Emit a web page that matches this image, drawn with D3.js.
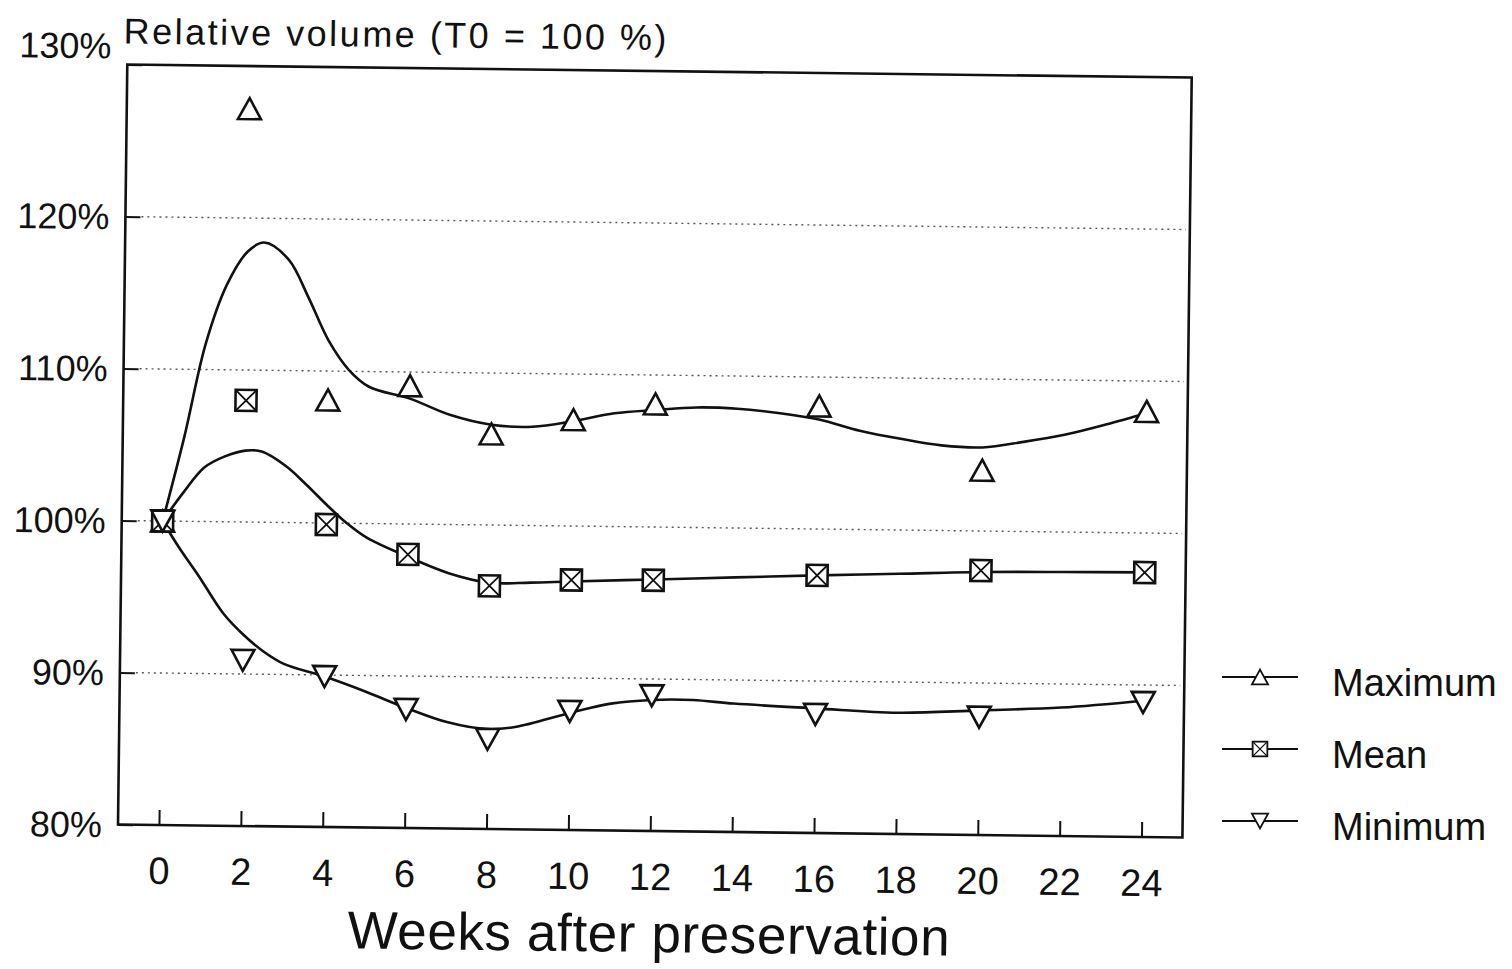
<!DOCTYPE html>
<html>
<head>
<meta charset="utf-8">
<script src="https://cdn.jsdelivr.net/npm/d3@7"></script>
<style>
  body { margin: 0; background: #fff; }
  text { font-family: "Liberation Sans", Arial, sans-serif; fill: #111; }
</style>
</head>
<body>
<div id="chart"></div>
<script>
// measured points (weeks after preservation, % of T0)
const weeks = [0, 2, 4, 6, 8, 10, 12, 16, 20, 24];
const maxValues = [100, 127.2, 108.1, 109.1, 106.0, 107.0, 108.1, 108.1, 104.0, 108.0];
const meanValues = [100, 108.0, 99.9, 98.0, 96.0, 96.45, 96.5, 96.95, 97.4, 97.4];
const minValues = [100, 90.9, 89.9, 87.8, 85.9, 87.8, 88.9, 87.8, 87.75, 88.85];

// fitted curves
const maxFitWeeks = [0, 0.5, 1, 1.5, 2, 2.4, 3, 3.5, 4, 4.5, 5, 6, 7, 8, 9, 10, 11, 12, 13, 14, 15, 16, 17, 18, 19, 20, 21, 22, 23, 24];
const maxFit = [100, 105.5, 111.7, 115.6, 117.8, 118.4, 117.3, 114.8, 112.0, 110.1, 109.0, 108.25, 107.2, 106.6, 106.5, 106.9, 107.45, 107.7, 107.9, 107.85, 107.6, 107.2, 106.5, 106.0, 105.6, 105.5, 105.9, 106.4, 107.1, 107.9];
const meanFitWeeks = [0, 0.5, 1, 1.5, 2, 2.4, 3, 3.5, 4, 4.5, 5, 6, 7, 8, 9, 10, 12, 14, 16, 18, 20, 22, 24];
const meanFit = [100, 101.9, 103.55, 104.3, 104.7, 104.65, 103.7, 102.5, 101.2, 100.0, 99.05, 97.84, 96.8, 96.2, 96.24, 96.35, 96.55, 96.75, 96.95, 97.12, 97.3, 97.37, 97.41];
const minFitWeeks = [0, 0.4, 0.9, 1.5, 2, 2.5, 3, 4, 5, 6, 7, 8, 8.7, 10, 11, 12, 13, 14, 16, 18, 20, 22, 24];
const minFit = [100, 98.3, 96.4, 94.0, 92.6, 91.5, 90.7, 89.9, 88.95, 87.9, 87.0, 86.57, 86.75, 87.7, 88.35, 88.62, 88.65, 88.45, 88.2, 87.98, 88.2, 88.45, 88.97];

const xTicks = [0, 2, 4, 6, 8, 10, 12, 14, 16, 18, 20, 22, 24];
const yTicks = [80, 90, 100, 110, 120, 130];
const gridValues = [90, 100, 110, 120];
const seriesNames = ["Maximum", "Mean", "Minimum"];

const width = 1512, height = 969;

const svg = d3.select("#chart").append("svg")
    .attr("width", width)
    .attr("height", height);

const x = d3.scaleLinear().domain([-1, 25]).range([118, 1182.5]);
const y = d3.scaleLinear().domain([80, 130]).range([825, 65]);

// the scanned figure sits slightly tilted clockwise
const plot = svg.append("g")
    .attr("transform", `rotate(0.7, ${x(0)}, ${y(80)})`);

// dotted gridlines
plot.selectAll(".grid")
    .data(gridValues)
    .enter().append("line")
    .attr("class", "grid")
    .attr("x1", x(-1) + 16)
    .attr("x2", x(25) - 4)
    .attr("y1", d => y(d))
    .attr("y2", d => y(d))
    .attr("stroke", "#555")
    .attr("stroke-width", 1.4)
    .attr("stroke-dasharray", "2,4");

// X axis (ticks point inward)
const xAxis = plot.append("g")
    .attr("transform", `translate(0, ${y(80)})`)
    .call(d3.axisBottom(x).tickValues(xTicks).tickSizeInner(-15).tickSizeOuter(0).tickPadding(32));
xAxis.select(".domain").remove();
xAxis.selectAll("line").attr("stroke", "#111").attr("stroke-width", 2);
xAxis.selectAll("text")
    .style("font-family", "'Liberation Sans', Arial, sans-serif")
    .style("font-size", "38px");

// Y axis
const yAxis = plot.append("g")
    .attr("transform", `translate(${x(-1)}, 0)`)
    .call(d3.axisLeft(y).tickValues(yTicks).tickSizeInner(-15).tickSizeOuter(0).tickPadding(16).tickFormat(d => d + "%"));
yAxis.select(".domain").remove();
yAxis.selectAll("line").attr("stroke", "#111").attr("stroke-width", 2);
yAxis.selectAll("text")
    .style("font-family", "'Liberation Sans', Arial, sans-serif")
    .style("font-size", "36px")
    .attr("dy", d => d === 130 ? "-0.18em" : "0.34em");

// frame
plot.append("rect")
    .attr("x", x(-1))
    .attr("y", y(130))
    .attr("width", x(25) - x(-1))
    .attr("height", y(80) - y(130))
    .attr("fill", "none")
    .attr("stroke", "#111")
    .attr("stroke-width", 2.6);

// fitted curves
const line = d3.line()
    .x(d => x(d[0]))
    .y(d => y(d[1]))
    .curve(d3.curveCatmullRom.alpha(0.5));

[[maxFitWeeks, maxFit], [meanFitWeeks, meanFit], [minFitWeeks, minFit]].forEach(function(s) {
    plot.append("path")
        .datum(d3.zip(s[0], s[1]))
        .attr("d", line)
        .attr("fill", "none")
        .attr("stroke", "#111")
        .attr("stroke-width", 2.6);
});

// marker shapes
const upTri = "M0,-10.5 L11.5,10.5 L-11.5,10.5 Z";
const downTri = "M-11.5,-10.5 L11.5,-10.5 L0,10.5 Z";

function drawMarker(g, kind) {
    if (kind === "Maximum") {
        g.append("path").attr("d", upTri);
    } else if (kind === "Minimum") {
        g.append("path").attr("d", downTri);
    } else {
        g.append("rect").attr("x", -10.5).attr("y", -10.5).attr("width", 21).attr("height", 21);
        g.append("path").attr("d", "M-10.5,-10.5 L10.5,10.5 M10.5,-10.5 L-10.5,10.5").attr("stroke-width", 1.8);
    }
    g.attr("fill", "#fff").attr("stroke", "#111").attr("stroke-width", 2.6);
}

const pointSets = [maxValues, meanValues, minValues];
pointSets.forEach(function(vals, i) {
    plot.selectAll(".pt" + i)
        .data(d3.zip(weeks, vals))
        .enter().append("g")
        .attr("class", "pt" + i)
        .attr("transform", d => `translate(${x(d[0])}, ${y(d[1])})`)
        .each(function() { drawMarker(d3.select(this), seriesNames[i]); });
});

// titles
plot.append("text")
    .attr("x", x(-1) - 4)
    .attr("y", 44)
    .style("font-size", "36px")
    .style("letter-spacing", "2.5px")
    .text("Relative volume (T0 = 100 %)");

plot.append("text")
    .attr("x", x(12))
    .attr("y", 946)
    .attr("text-anchor", "middle")
    .style("font-size", "53px")
    .style("letter-spacing", "0.6px")
    .text("Weeks after preservation");

// legend
const legend = svg.selectAll(".legend")
    .data(seriesNames)
    .enter().append("g")
    .attr("class", "legend")
    .attr("transform", (d, i) => `translate(1222, ${677 + i * 72})`);

legend.append("line")
    .attr("x1", 0)
    .attr("x2", 76)
    .attr("stroke", "#111")
    .attr("stroke-width", 2);

legend.append("g")
    .attr("transform", "translate(38, 0) scale(0.7)")
    .each(function(d) { drawMarker(d3.select(this), d); });

legend.append("text")
    .attr("x", 110)
    .attr("y", 19)
    .style("font-size", "38px")
    .text(d => d);
</script>
</body>
</html>
